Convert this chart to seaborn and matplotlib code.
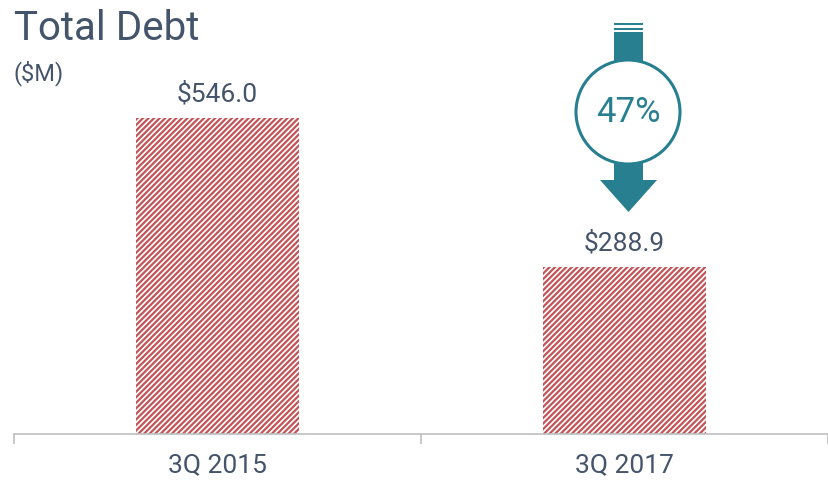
import numpy as np
import pandas as pd
import seaborn as sns
import matplotlib.pyplot as plt
from matplotlib.patches import Circle, Rectangle, Polygon

periods = ['3Q 2015', '3Q 2017']
debt = [546.0, 288.9]

df = pd.DataFrame({'periodo': periods, 'deuda': debt})

txt_color = '#44546A'
red = '#C25458'
teal = '#287F8F'

sns.set_style('white')
plt.rcParams['font.family'] = ['Roboto', 'DejaVu Sans']
plt.rcParams['hatch.color'] = red
plt.rcParams['hatch.linewidth'] = 1.6

fig = plt.figure(figsize=(8.29, 4.8), dpi=100)
ax = fig.add_axes([14 / 829, 46 / 480, 814 / 829, 434 / 480])

sns.barplot(data=df, x='periodo', y='deuda', color='white', width=0.4,
            edgecolor=red, linewidth=0, ax=ax)
for p in ax.patches:
    p.set_hatch('//////')
    p.set_edgecolor(red)

ax.bar_label(ax.containers[0], labels=[f'${v:.1f}' for v in debt],
             padding=8, fontsize=19, color=txt_color)

ax.set_xlim(-0.5, 1.5)
ax.set_ylim(0, 750)
ax.set_xlabel('')
ax.set_ylabel('')
ax.set_yticks([])
for s in ['top', 'right', 'left']:
    ax.spines[s].set_visible(False)
ax.spines['bottom'].set_color('#BFBFBF')
ax.spines['bottom'].set_linewidth(1.2)
ax.set_xticks([-0.5, 0.5, 1.5], minor=True)
ax.tick_params(axis='x', which='minor', bottom=True, length=7, width=1.2,
               color='#BFBFBF', direction='out')
ax.tick_params(axis='x', which='major', length=0, pad=14, labelsize=19, labelcolor=txt_color)

# titulo
fig.text(14 / 829, 1 - 9 / 480, 'Total Debt', fontsize=29, color=txt_color, va='top', ha='left')
fig.text(14 / 829, 1 - 60 / 480, '($M)', fontsize=17, color=txt_color, va='top', ha='left')

# flecha con porcentaje (coordenadas en pixeles)
ov = fig.add_axes([0, 0, 1, 1], facecolor='none')
ov.set_xlim(0, 829)
ov.set_ylim(480, 0)
ov.axis('off')
cx = 628
ov.add_patch(Rectangle((614, 23), 29, 2, color=teal, lw=0))
ov.add_patch(Rectangle((614, 27.5), 29, 2, color=teal, lw=0))
ov.add_patch(Rectangle((614, 31.5), 29, 40, color=teal, lw=0))
ov.add_patch(Rectangle((614, 150), 29, 31, color=teal, lw=0))
ov.add_patch(Polygon([(600, 180), (657, 180), (628.5, 212)], closed=True, color=teal, lw=0))
ov.add_patch(Circle((cx, 112), 52, facecolor='white', edgecolor=teal, lw=2.2))
pct = round((1 - debt[1] / debt[0]) * 100)
ov.text(cx, 113, f'{pct}%', fontsize=25, color=teal, ha='center', va='center')

plt.savefig('out.png', dpi=100)
